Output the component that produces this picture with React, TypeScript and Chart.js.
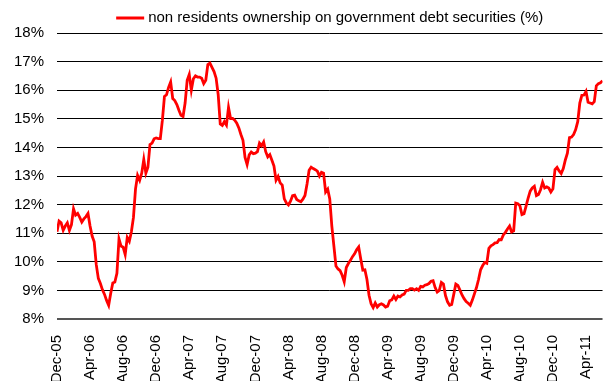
import React, { useEffect, useRef } from "react";
import { Chart, registerables } from "chart.js";

Chart.register(...registerables);

const seriesLabel = "non residents ownership on government debt securities (%)";

// one tick label every 4 months, starting Dec-05
const tickLabels = [
  "Dec-05", "Apr-06", "Aug-06", "Dec-06", "Apr-07", "Aug-07", "Dec-07", "Apr-08", "Aug-08",
  "Dec-08", "Apr-09", "Aug-09", "Dec-09", "Apr-10", "Aug-10", "Dec-10", "Apr-11",
];
const monthsPerTick = 4;
const pointsPerMonth = 4; // roughly weekly observations
const lastMonth = 66;

// % of government debt securities held by non residents, ~weekly from Dec-05
const ownershipPct = [
  11.05, 11.42, 11.36, 11.10, 11.25, 11.36, 11.10, 11.30, 11.85, 11.63, 11.69, 11.55, 11.39, 11.50, 11.58, 11.69,
  11.25, 10.90, 10.70, 9.90, 9.42, 9.24, 9.02, 8.86, 8.65, 8.48, 8.90, 9.26, 9.29, 9.60, 10.80, 10.55,
  10.51, 10.25, 10.85, 10.72, 11.05, 11.55, 12.55, 13.02, 12.85, 13.10, 13.58, 13.10, 13.31, 14.10, 14.15, 14.30,
  14.33, 14.31, 14.31, 14.95, 15.78, 15.84, 16.10, 16.29, 15.71, 15.64, 15.50, 15.30, 15.12, 15.08, 15.55, 16.35,
  16.55, 16.00, 16.40, 16.50, 16.46, 16.46, 16.42, 16.23, 16.35, 16.90, 16.95, 16.80, 16.65, 16.42, 15.85, 14.82,
  14.77, 14.90, 14.78, 15.40, 15.01, 15.01, 14.95, 14.85, 14.68, 14.45, 14.25, 13.65, 13.40, 13.74, 13.84, 13.78,
  13.80, 13.85, 14.15, 14.06, 14.19, 13.85, 13.67, 13.75, 13.55, 13.35, 12.85, 12.98, 12.76, 12.68, 12.20, 12.06,
  11.99, 12.12, 12.31, 12.33, 12.18, 12.13, 12.10, 12.19, 12.32, 12.72, 13.20, 13.31, 13.26, 13.22, 13.17, 13.00,
  13.13, 13.10, 12.44, 12.54, 12.20, 11.25, 10.55, 9.85, 9.75, 9.69, 9.53, 9.30, 9.80, 9.94, 10.05, 10.18,
  10.28, 10.42, 10.52, 10.10, 9.71, 9.72, 9.38, 8.83, 8.53, 8.40, 8.56, 8.42, 8.50, 8.53, 8.49, 8.42,
  8.45, 8.64, 8.67, 8.80, 8.68, 8.80, 8.77, 8.84, 8.87, 9.00, 9.00, 9.06, 9.06, 9.01, 9.06, 9.00,
  9.14, 9.12, 9.18, 9.20, 9.24, 9.32, 9.34, 9.10, 8.94, 9.00, 9.28, 9.22, 8.82, 8.60, 8.48, 8.51,
  8.86, 9.22, 9.17, 9.01, 8.84, 8.71, 8.61, 8.55, 8.48, 8.66, 8.88, 9.10, 9.38, 9.72, 9.87, 9.98,
  9.95, 10.47, 10.56, 10.60, 10.66, 10.67, 10.78, 10.77, 10.94, 11.03, 11.15, 11.25, 11.04, 11.08, 12.05, 12.03,
  11.96, 11.65, 11.68, 11.95, 12.23, 12.47, 12.58, 12.64, 12.31, 12.35, 12.52, 12.78, 12.58, 12.62, 12.58, 12.44,
  12.55, 13.22, 13.30, 13.18, 13.09, 13.26, 13.56, 13.80, 14.34, 14.36, 14.45, 14.62, 14.90, 15.55, 15.82, 15.83,
  15.96, 15.58, 15.55, 15.52, 15.60, 16.15, 16.23, 16.26,
  16.33,
];

const yMin = 8;
const yMax = 18;
const yStep = 1;

const FONT = "'Liberation Sans', Arial, Helvetica, sans-serif";

export default function App() {
  const canvasRef = useRef<HTMLCanvasElement | null>(null);

  useEffect(() => {
    document.body.style.margin = "0";
    const canvas = canvasRef.current;
    if (!canvas) return;

    const legendPlugin = {
      id: "centeredLineLegend",
      afterDraw(chart: any) {
        const { ctx, chartArea } = chart;
        ctx.save();
        ctx.font = `15px ${FONT}`;
        const tw = ctx.measureText(seriesLabel).width;
        const lineW = 28;
        const gap = 4;
        const total = lineW + gap + tw;
        const cx = (chartArea.left + chartArea.right) / 2;
        const x0 = cx - total / 2;
        const y = 18;
        ctx.strokeStyle = "#ff0000";
        ctx.lineWidth = 3;
        ctx.beginPath();
        ctx.moveTo(x0, y);
        ctx.lineTo(x0 + lineW, y);
        ctx.stroke();
        ctx.fillStyle = "#000";
        ctx.textBaseline = "middle";
        ctx.textAlign = "left";
        ctx.fillText(seriesLabel, x0 + lineW + gap, y);
        ctx.restore();
      },
    };

    const points = ownershipPct.map((v, i) => ({ x: i / pointsPerMonth, y: v }));

    const chart = new Chart(canvas, {
      type: "line",
      data: {
        datasets: [
          {
            label: seriesLabel,
            data: points,
            borderColor: "#ff0000",
            backgroundColor: "#ff0000",
            borderWidth: 2.8,
            pointRadius: 0,
            tension: 0,
            fill: false,
          },
        ],
      },
      options: {
        responsive: false,
        animation: false,
        devicePixelRatio: 1,
        layout: { padding: { top: 33, right: 0, left: 0, bottom: 0 } },
        plugins: {
          legend: { display: false },
          tooltip: { enabled: false },
        },
        scales: {
          x: {
            type: "linear",
            min: 0,
            max: lastMonth,
            grid: { display: false },
            border: { display: false },
            afterFit: (s: any) => {
              s.height = 62;
            },
            ticks: {
              stepSize: monthsPerTick,
              autoSkip: false,
              includeBounds: false,
              minRotation: 90,
              maxRotation: 90,
              padding: 8,
              color: "#000",
              font: { family: FONT, size: 15 },
              callback: (v: any) => {
                const k = Number(v) / monthsPerTick;
                return Number.isInteger(k) && tickLabels[k] ? tickLabels[k] : "";
              },
            },
          },
          y: {
            min: yMin,
            max: yMax,
            border: { display: false },
            afterFit: (s: any) => {
              s.width = 57;
            },
            grid: {
              drawTicks: false,
              color: (c: any) => (c.tick && c.tick.value === yMin ? "#555" : "#000"),
              lineWidth: (c: any) => (c.tick && c.tick.value === yMin ? 2 : 1),
            },
            ticks: {
              stepSize: yStep,
              padding: 13,
              color: "#000",
              font: { family: FONT, size: 15 },
              callback: (v: any) => `${v}%`,
            },
          },
        },
      },
      plugins: [legendPlugin],
    });

    return () => chart.destroy();
  }, []);

  return (
    <div style={{ width: 612, height: 381, position: "relative" }}>
      <canvas ref={canvasRef} width={612} height={381} style={{ display: "block" }} />
    </div>
  );
}
